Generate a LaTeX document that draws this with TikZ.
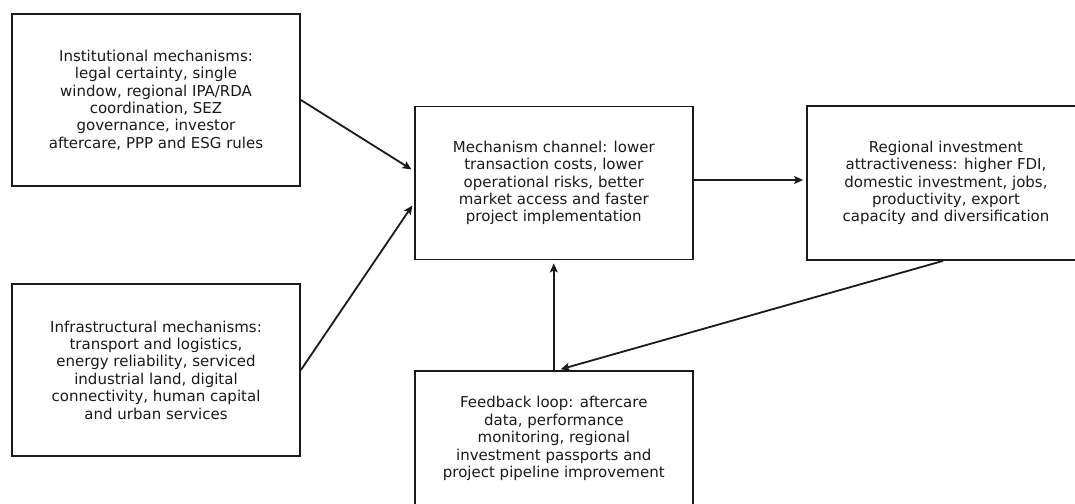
\documentclass[tikz,border=0pt]{standalone}
\usepackage{fontspec}
\setmainfont{DejaVu Sans}
\usetikzlibrary{arrows.meta}
\definecolor{ink}{HTML}{1A1A1A}
\tikzset{
  box/.style={draw=ink, line width=1.8pt, inner sep=0pt, align=center,
    text=ink, font=\fontsize{15}{17.4}\selectfont},
  arr/.style={draw=ink, line width=1.8pt, -{Stealth[length=9pt,width=8pt,inset=2pt]}, shorten >=3pt}
}
\begin{document}
\begin{tikzpicture}[x=1pt,y=-1pt]
\useasboundingbox (0,0) rectangle (1075,503);
\clip (0,0) rectangle (1075,503);
\fill[white] (0,0) rectangle (1075,503);
\node[box, minimum width=288pt, minimum height=172pt] (A) at (156,100)
  {Institutional mechanisms:\\legal certainty, single\\window, regional IPA/RDA\\coordination, SEZ\\governance, investor\\aftercare, PPP and ESG rules};
\node[box, minimum width=288pt, minimum height=172pt] (B) at (156,370)
  {Infrastructural mechanisms:\\transport and logistics,\\energy reliability, serviced\\industrial land, digital\\connectivity, human capital\\and urban services};
\node[box, minimum width=277.7pt, minimum height=153pt] (C) at (553.8,183)
  {Mechanism channel: lower\\transaction costs, lower\\operational risks, better\\market access and faster\\project implementation};
\node[box, minimum width=278pt, minimum height=154pt] (D) at (946,183)
  {Regional investment\\attractiveness: higher FDI,\\domestic investment, jobs,\\productivity, export\\capacity and diversification};
\node[box, minimum width=277.7pt, minimum height=135pt] (E) at (553.8,438.5)
  {Feedback loop: aftercare\\data, performance\\monitoring, regional\\investment passports and\\project pipeline improvement};
\draw[arr] (A.east) -- ([yshift=12pt]C.west);
\draw[arr] (B.east) -- ([yshift=-20pt]C.west);
\draw[arr] ([yshift=3pt]C.east) -- ([yshift=3pt]D.west);
\draw[arr] (E.north) -- (C.south);
\draw[arr] ([xshift=-3pt]D.south) -- ([xshift=4pt]E.north);
\end{tikzpicture}
\end{document}
